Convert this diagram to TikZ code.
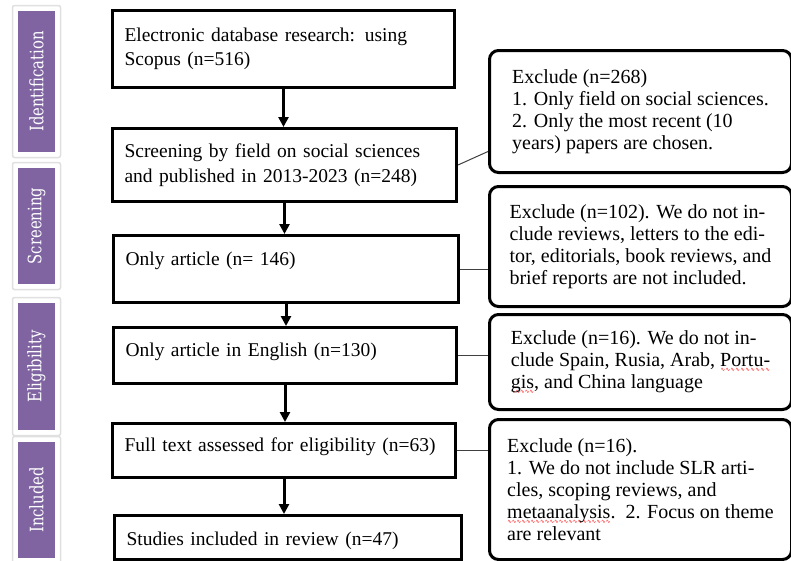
\documentclass[tikz,border=0pt]{standalone}
\usepackage{fontspec}
\setmainfont{Liberation Serif}
\newfontfamily\tabfont[FakeStretch=0.8]{DejaVu Serif}
\newfontfamily\wavefont{DejaVu Sans}
\usetikzlibrary{arrows.meta}
\definecolor{tabpurple}{HTML}{8064A2}
\newcommand\spellwave[1]{\setbox0\hbox{#1}\rlap{\lower5pt\hbox to\wd0{\color{red}\wavefont\fontsize{5.5}{6}\selectfont\xleaders\hbox{∿}\hfil}}\box0}
\begin{document}
\begin{tikzpicture}[x=1pt,y=-1pt,
    stage/.style={draw,line width=3pt,anchor=north west,inner xsep=12pt,inner ysep=0pt,align=left,font=\fontsize{19.5}{24.6}\selectfont},
    excl/.style={draw,line width=3pt,rounded corners=9pt,anchor=north west,inner sep=0pt,align=left,minimum width=302pt,font=\fontsize{20}{22}\selectfont},
    tabframe/.style={fill=white,draw=black!12,line width=1.5pt,rounded corners=2pt,minimum width=48pt},
    tab/.style={fill=tabpurple,text=white,rotate=90,minimum height=37pt,inner sep=0pt,font=\tabfont\fontsize{18.5}{20}\selectfont},
    flow/.style={line width=3pt,-{Triangle[width=10pt,length=10pt]}},
    link/.style={line width=1pt,draw=black!75}]
  \useasboundingbox (0,0) rectangle (791,560);

  \foreach \lbl/\yc/\len [count=\i] in {Identification/81.5/141,Screening/226/116,Eligibility/366.5/127,Included/500/116}{
    \node[tabframe,minimum height=\len+11] (frame\i) at (36.5,\yc) {};
    \node[tab,minimum width=\len] (tab\i) at (36.5,\yc) {\lbl};
  }

  \node[stage,text width=318pt,minimum height=77pt] (b1) at (111,9) {Electronic database research: using\\Scopus (n=516)};
  \node[stage,text width=320pt,minimum height=73pt] (b2) at (111,127) {Screening by field on social sciences\\and published in 2013-2023 (n=248)};
  \node[stage,text width=321pt,text height=30pt,text depth=37pt] (b3) at (112,234) {Only article (n= 146)};
  \node[stage,text width=319pt,text height=29pt,text depth=27pt] (b4) at (112,326) {Only article in English (n=130)};
  \node[stage,text width=319pt,text height=28pt,text depth=26pt] (b5) at (111,422) {Full text assessed for eligibility (n=63)};
  \node[stage,text width=323pt,text height=30pt,text depth=14pt] (b6) at (113,514) {Studies included in review (n=47)};

  \node[excl,minimum height=122pt] (r1) at (488,49) {Exclude (n=268)\\1. Only field on social sciences.\\2. Only the most recent (10\\years) papers are chosen.};
  \node[excl,minimum height=120pt] (r2) at (488,185) {Exclude (n=102). We do not in-\\clude reviews, letters to the edi-\\tor, editorials, book reviews, and\\brief reports are not included.};
  \node[excl,minimum height=95pt] (r3) at (488,313) {Exclude (n=16). We do not in-\\clude Spain, Rusia, Arab, \spellwave{Portu-}\\\spellwave{gis}, and China language};
  \node[excl,minimum height=140pt] (r4) at (488,418) {Exclude (n=16).\\1. We do not include SLR arti-\\cles, scoping reviews, and\\\spellwave{metaanalysis}.\ \ 2. Focus on theme\\are relevant};

  \foreach \a/\b in {b1/b2,b2/b3,b3/b4,b4/b5,b5/b6}
    \draw[flow] (\a.south) -- (\a.south |- \b.north);

  \draw[link] (b2.east) -- ([yshift=-40pt]r1.west);
  \draw[link] (b3.east) -- (b3.east -| r2.west);
  \draw[link] (b4.east) -- (b4.east -| r3.west);
  \draw[link] (b5.east) -- (b5.east -| r4.west);
\end{tikzpicture}
\end{document}
